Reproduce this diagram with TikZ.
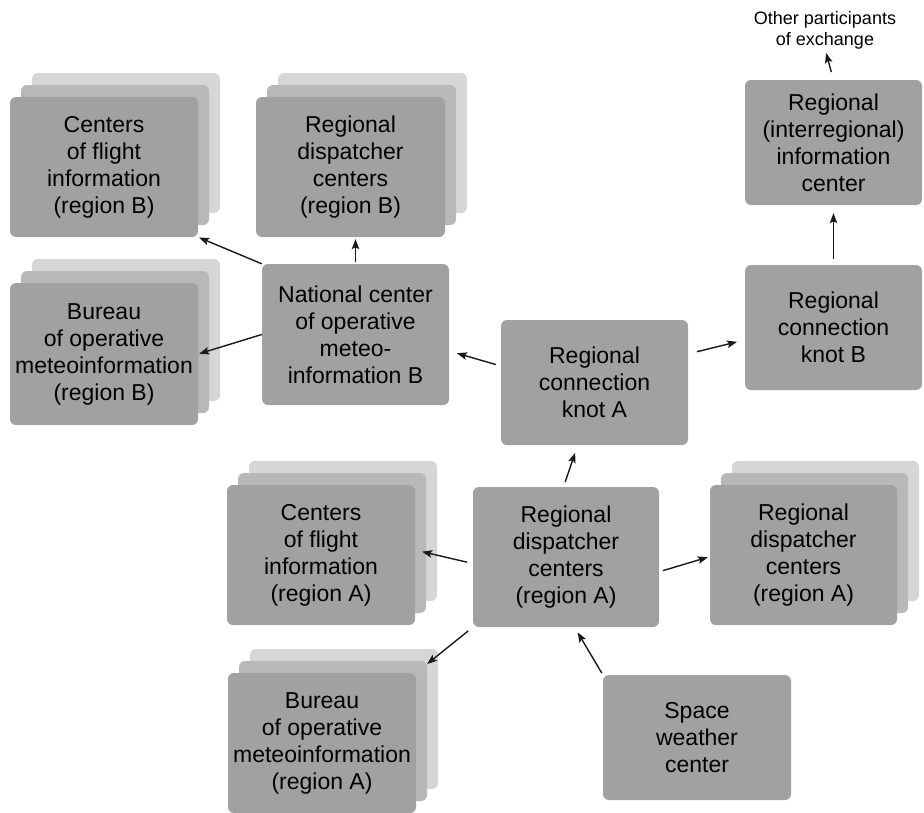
\documentclass[tikz,border=0pt]{standalone}
\usepackage{fontspec}
\setmainfont{Liberation Sans}
\usetikzlibrary{arrows.meta,shadows}

\definecolor{boxfront}{gray}{0.63}
\definecolor{boxmid}{gray}{0.72}
\definecolor{boxback}{gray}{0.84}

\begin{document}
\begin{tikzpicture}[x=1pt,y=1pt]
	\tikzstyle{every node}+=[inner sep=0pt]
	\tikzstyle{block}=[rectangle, rounded corners=6pt, fill=boxfront, align=center, font=\fontsize{23}{27}\selectfont, minimum width=187pt, minimum height=125pt]
	\tikzstyle{stackblock}=[block, minimum height=140pt, copy shadow={shadow xshift=22pt, shadow yshift=24pt, fill=boxback, draw=none}, copy shadow={shadow xshift=11pt, shadow yshift=12pt, fill=boxmid, draw=none}]
	\tikzstyle{link}=[-{Stealth[length=10pt,width=7.5pt,inset=2pt]}, line width=1.4pt, black!90]
	\useasboundingbox (0,0) rectangle (924,-812);
	% region B
	\node [stackblock, minimum width=188pt] (centB) at (104,-167) {Centers\\of flight\\information\\(region B)};
	\node [stackblock, minimum width=189pt] (dispB) at (350.5,-167) {Regional\\dispatcher\\centers\\(region B)};
	\node [stackblock, minimum width=188pt, minimum height=142pt] (burB) at (104,-354) {Bureau\\of operative\\meteoinformation\\(region B)};
	\node [block, minimum height=141pt] (natB) at (355.5,-334.5) {National center\\of operative\\meteo-\\information B};
	\node [block, minimum width=177pt] (knotB) at (833.5,-327.5) {Regional\\connection\\knot B};
	\node [block, minimum width=177pt] (infoC) at (833.5,-142.5) {Regional\\(interregional)\\information\\center};
	\node [font=\fontsize{18}{21}\selectfont, align=center] (other) at (825,-30) {Other participants\\of exchange};
	% region A
	\node [block] (knotA) at (594.5,-382.5) {Regional\\connection\\knot A};
	\node [block, minimum width=186pt, minimum height=140pt] (dispA) at (566,-557) {Regional\\dispatcher\\centers\\(region A)};
	\node [stackblock, minimum width=188pt] (centA) at (321,-555) {Centers\\of flight\\information\\(region A)};
	\node [stackblock] (dispAr) at (803.5,-555) {Regional\\dispatcher\\centers\\(region A)};
	\node [stackblock, minimum width=188pt] (burA) at (322,-743) {Bureau\\of operative\\meteoinformation\\(region A)};
	\node [block, minimum width=188pt] (space) at (697,-737.5) {Space\\weather\\center};
	% links
	\draw [link, shorten >=1pt] (natB.north west) -- (centB.south east);
	\draw [link, shorten <=2pt, shorten >=2pt] (natB.north) -- (natB.north |- dispB.south);
	\draw [link, shorten >=1pt] (natB.west) -- (burB.east);
	\draw [link, shorten <=5pt, shorten >=8pt] (knotA.170) -- (natB.-10);
	\draw [link, shorten <=9pt, shorten >=8pt] (knotA.17) -- (knotB.188);
	\draw [link, shorten <=6pt, shorten >=8pt] (knotB.north) -- (infoC.south);
	\draw [link, shorten <=8pt, shorten >=4pt] (infoC.north) -- (other.south);
	\draw [link, shorten <=5pt, shorten >=8pt] (dispA.92) -- (knotA.255);
	\draw [link, shorten <=6pt, shorten >=7pt] (dispA.184) -- (centA.3);
	\draw [link, shorten <=6pt, shorten >=14pt] (dispA.south west) -- (burA.north east);
	\draw [link, shorten <=4pt, shorten >=2pt] (dispA.-9) -- (dispAr.181);
	\draw [link, shorten <=2pt, shorten >=6pt] (space.north west) -- (dispA.-83);
\end{tikzpicture}
\end{document}
